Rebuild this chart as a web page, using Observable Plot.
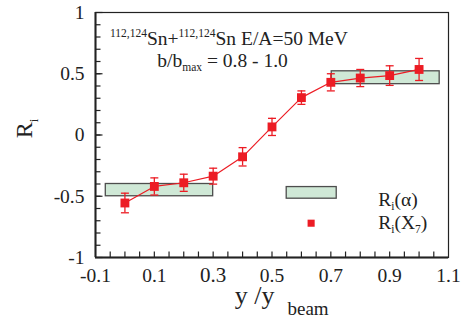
<!DOCTYPE html>
<html><head><meta charset="utf-8">
<script src="https://cdn.jsdelivr.net/npm/d3@7"></script>
<script src="https://cdn.jsdelivr.net/npm/@observablehq/plot@0.6"></script>
<style>html,body{margin:0;padding:0;background:#fff;}
svg text{font-family:"Liberation Serif","Times New Roman",serif !important;}</style>
</head><body><div id="chart"></div>
<script>
// ---- data ----
const xs      = [0, 0.1, 0.2, 0.3, 0.4, 0.5, 0.6, 0.7, 0.8, 0.9, 1.0];
const riX7    = [-0.555, -0.42, -0.39, -0.336, -0.178, 0.066, 0.305, 0.43, 0.465, 0.485, 0.535];
const errX7   = [0.08, 0.07, 0.07, 0.065, 0.075, 0.07, 0.055, 0.07, 0.07, 0.08, 0.09];
// R_i(alpha) bands
const alphaX1 = [-0.065, 0.703];
const alphaX2 = [0.3, 1.07];
const alphaY1 = [-0.5, 0.415];
const alphaY2 = [-0.4, 0.52];
// tick labels
const xTickValues = [-0.1, 0.1, 0.3, 0.5, 0.7, 0.9, 1.1];
const xTickLabels = ["-0.1", "0.1", "0.3", "0.5", "0.7", "0.9", "1.1"];
const yTickValues = [1, 0.5, 0, -0.5, -1];
const yTickLabels = ["1", "0.5", "0", "-0.5", "-1"];
const xMinor = d3.range(-0.05, 1.1, 0.05).map(v => +v.toFixed(2));
const yMinor = d3.range(-0.9, 1.0, 0.1).map(v => +v.toFixed(1));
// legend
const legendBox = {x1: 0.55, x2: 0.72, y1: -0.52, y2: -0.425};
const legendDot = {x: 0.633, y: -0.72};

const red = "#ec1c24";
const pts = xs.map((x, i) => ({x, y: riX7[i], e: errX7[i]}));
const bands = alphaX1.map((x1, i) => ({x1, x2: alphaX2[i], y1: alphaY1[i], y2: alphaY2[i]}));
const xT = xTickValues.map((v, i) => ({v, t: xTickLabels[i]}));
const yT = yTickValues.map((v, i) => ({v, t: yTickLabels[i]}));

const cap = {draw(c) { c.moveTo(-4, 0); c.lineTo(4, 0); }};
const tickRight = (len) => ({draw(c) { c.moveTo(0, 0); c.lineTo(len, 0); }});
const tickUp = (len) => ({draw(c) { c.moveTo(0, 0); c.lineTo(0, -len); }});

const chart = Plot.plot({
  width: 466, height: 323,
  marginLeft: 95, marginRight: 18, marginTop: 12, marginBottom: 66,
  x: {domain: [-0.1, 1.1], axis: null},
  y: {domain: [-1, 1], axis: null},
  style: {fontFamily: "'Liberation Serif', serif", background: "white", color: "#222"},
  marks: [
    Plot.rect(bands, {x1: "x1", x2: "x2", y1: "y1", y2: "y2", fill: "#cfe8d6", stroke: "#4d4d4d", strokeWidth: 1.3}),
    Plot.rect([legendBox], {x1: "x1", x2: "x2", y1: "y1", y2: "y2", fill: "#cfe8d6", stroke: "#4d4d4d", strokeWidth: 1.3}),
    Plot.line(pts, {x: "x", y: "y", stroke: red, strokeWidth: 1.2}),
    Plot.ruleX(pts, {x: "x", y1: d => d.y - d.e, y2: d => d.y + d.e, stroke: red, strokeWidth: 1.3}),
    Plot.dot(pts, {x: "x", y: d => d.y + d.e, symbol: cap, fill: "none", stroke: red, strokeWidth: 1.3}),
    Plot.dot(pts, {x: "x", y: d => d.y - d.e, symbol: cap, fill: "none", stroke: red, strokeWidth: 1.3}),
    Plot.dot(pts, {x: "x", y: "y", symbol: "square", fill: red, stroke: "none", r: 5}),
    Plot.dot([legendDot], {x: "x", y: "y", symbol: "square", fill: red, stroke: "none", r: 4}),
    // ticks
    Plot.dot(yMinor, {x: () => -0.1, y: d => d, symbol: tickRight(5), fill: "none", stroke: "#222", strokeWidth: 1.2}),
    Plot.dot(yTickValues, {x: () => -0.1, y: d => d, symbol: tickRight(7), fill: "none", stroke: "#222", strokeWidth: 1.2}),
    Plot.dot(xMinor, {x: d => d, y: () => -1, symbol: tickUp(6), fill: "none", stroke: "#222", strokeWidth: 1.2}),
    // tick labels
    Plot.text(yT, {x: () => -0.1, y: "v", text: "t", dx: -11, textAnchor: "end", fontSize: 19.5, fill: "#222"}),
    Plot.text(xT, {x: "v", y: () => -1, text: "t", dy: 18, fontSize: d => d.t === "0.3" ? 21 : 19.5,
      fontWeight: d => d.t === "0.3" ? "bold" : "normal", fill: "#222"}),
    Plot.frame({stroke: "#222", strokeWidth: 1.2}),
    Plot.ruleX([-0.1], {stroke: "#222", strokeWidth: 2}),
    Plot.ruleY([-1], {stroke: "#222", strokeWidth: 2})
  ]
});
document.getElementById("chart").appendChild(chart);

// rich-text annotations
const sx = chart.scale("x"), sy = chart.scale("y");
const svg = d3.select(chart);
function rich(x, y, parts, size, extra) {
  const t = svg.append("text").attr("x", x).attr("y", y)
    .attr("text-anchor", "start")
    .attr("font-size", size).attr("fill", "#222");
  if (extra) extra(t);
  for (const p of parts) {
    const s = t.append("tspan").text(p.t);
    if (p.size) s.attr("font-size", p.size);
    if (p.dy) s.attr("dy", p.dy);
    if (p.dx) s.attr("dx", p.dx);
  }
  return t;
}
// title
rich(sx.apply(-0.049), sy.apply(0.73), [
  {t: "112,124", size: 11.5, dy: -8}, {t: "Sn+", dy: 8},
  {t: "112,124", size: 11.5, dy: -8}, {t: "Sn E/A=50 MeV", dy: 8}
], 19.5);
rich(sx.apply(0.112), sy.apply(0.555), [
  {t: "b/b"}, {t: "max", size: 11.5, dy: 4}, {t: " = 0.8 - 1.0", dy: -4}
], 19.5);
// legend texts
rich(sx.apply(0.863), sy.apply(-0.582), [
  {t: "R"}, {t: "i", size: 11.5, dy: 4}, {t: "(α)", dy: -4}
], 19.5);
rich(sx.apply(0.863), sy.apply(-0.77), [
  {t: "R"}, {t: "i", size: 11.5, dy: 4}, {t: "(X", dy: -4}, {t: "7", size: 11.5, dy: 4}, {t: ")", dy: -4}
], 19.5);
// axis titles
const yBase = sy.apply(-1);
rich(sx.apply(0.375), yBase + 47, [
  {t: "y /y", size: 26}, {t: "beam", size: 19, dy: 11, dx: 13}
], 26);
rich(32, sy.apply(-0.03), [
  {t: "R", size: 24}, {t: "i", size: 13, dy: 6}
], 24, t => t.attr("transform", `rotate(-90, 32, ${sy.apply(-0.03)})`));
</script>
</body></html>
